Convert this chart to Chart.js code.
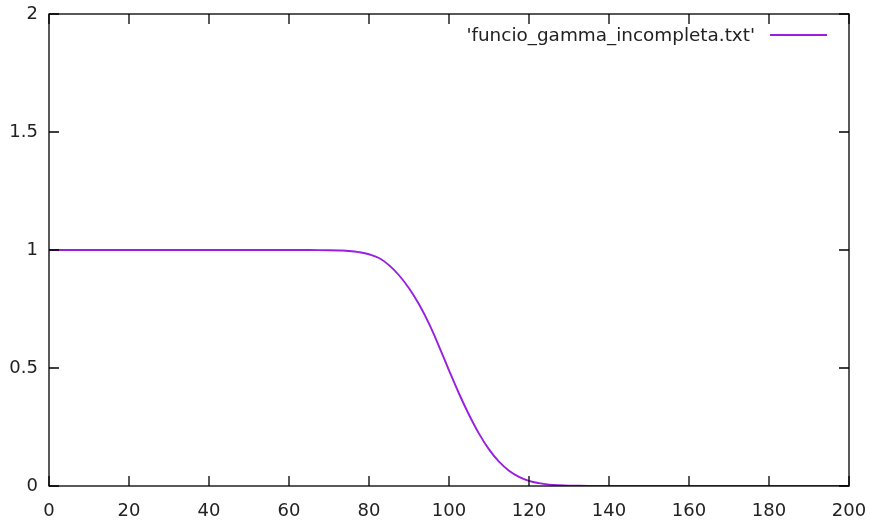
<!DOCTYPE html>
<html>
<head>
<meta charset="utf-8">
<script src="https://cdn.jsdelivr.net/npm/chart.js@4/dist/chart.umd.min.js"></script>
<style>
  html, body { margin: 0; padding: 0; background: #fff; }
  #wrap { width: 870px; height: 525px; }
</style>
</head>
<body>
<div id="wrap"><canvas id="grafic" width="870" height="525"></canvas></div>
<script>
// valors llegits de la imatge
var xs = [0, 10, 20, 30, 40, 50, 60, 65, 70, 72.5, 75, 77.5, 80, 82.5, 85, 87.5, 90, 92.5, 95, 97.5, 100, 102.5, 105, 107.5, 110, 112.5, 115, 117.5, 120, 122.5, 125, 127.5, 130, 135, 140, 150, 160, 170, 180, 190, 200];
var ys = [1, 1, 1, 1, 1, 1, 1, 0.9998, 0.9992, 0.998, 0.996, 0.991, 0.982, 0.966, 0.936, 0.893, 0.838, 0.77, 0.688, 0.592, 0.49, 0.392, 0.302, 0.222, 0.155, 0.103, 0.065, 0.039, 0.022, 0.012, 0.006, 0.003, 0.0015, 0.0003, 0, 0, 0, 0, 0, 0, 0];
var xTicks = [0, 20, 40, 60, 80, 100, 120, 140, 160, 180, 200];
var yTicks = [0, 0.5, 1, 1.5, 2];
var nomSerie = "'funcio_gamma_incompleta.txt'";

var punts = xs.map(function (x, i) { return { x: x, y: ys[i] }; });
var font = 'DejaVu Sans';

// marc i marques cap endins, com al gnuplot
var marc = {
    id: 'marc',
    afterDraw: function (chart) {
        var c = chart.ctx, a = chart.chartArea;
        var sx = chart.scales.x, sy = chart.scales.y;
        var t = 10;
        c.save();
        c.strokeStyle = '#000';
        c.lineWidth = 1.3;
        c.strokeRect(a.left, a.top, a.right - a.left, a.bottom - a.top);
        c.beginPath();
        xTicks.forEach(function (v) {
            var p = sx.getPixelForValue(v);
            c.moveTo(p, a.bottom); c.lineTo(p, a.bottom - t);
            c.moveTo(p, a.top); c.lineTo(p, a.top + t);
        });
        yTicks.forEach(function (v) {
            var p = sy.getPixelForValue(v);
            c.moveTo(a.left, p); c.lineTo(a.left + t, p);
            c.moveTo(a.right, p); c.lineTo(a.right - t, p);
        });
        c.stroke();

        // llegenda
        var ds = chart.data.datasets[0];
        c.font = '18.4px ' + font;
        c.fillStyle = '#222';
        c.textAlign = 'right';
        c.textBaseline = 'middle';
        c.fillText(ds.label, 755, 36);
        c.strokeStyle = ds.borderColor;
        c.lineWidth = 1.8;
        c.beginPath();
        c.moveTo(770, 35); c.lineTo(827, 35);
        c.stroke();
        c.restore();
    }
};

var graph = document.getElementById('grafic').getContext('2d');
var myChart = new Chart(graph, {
    type: 'line',
    data: {
        datasets: [{
            label: nomSerie,
            data: punts,
            borderColor: '#9a1ee0',
            borderWidth: 1.9,
            pointRadius: 0,
            fill: false,
            tension: 0.4
        }]
    },
    options: {
        responsive: false,
        animation: false,
        layout: { padding: { top: 14, right: 21, left: 0, bottom: 0 } },
        plugins: { legend: { display: false }, tooltip: { enabled: false } },
        scales: {
            x: {
                type: 'linear', min: 0, max: 200,
                afterBuildTicks: function (s) { s.ticks = xTicks.map(function (v) { return { value: v }; }); },
                afterFit: function (s) { s.height = 39; s.paddingLeft = 0; s.paddingRight = 0; },
                grid: { display: false },
                border: { display: false },
                ticks: { color: '#222', font: { family: font, size: 18 }, padding: 7, maxRotation: 0 }
            },
            y: {
                type: 'linear', min: 0, max: 2,
                afterBuildTicks: function (s) { s.ticks = yTicks.map(function (v) { return { value: v }; }); },
                afterFit: function (s) { s.width = 49; s.paddingTop = 0; s.paddingBottom = 0; },
                grid: { display: false },
                border: { display: false },
                ticks: {
                    color: '#222', font: { family: font, size: 18 }, padding: 3,
                    callback: function (v) { return String(v); }
                }
            }
        }
    },
    plugins: [marc]
});
</script>
</body>
</html>
